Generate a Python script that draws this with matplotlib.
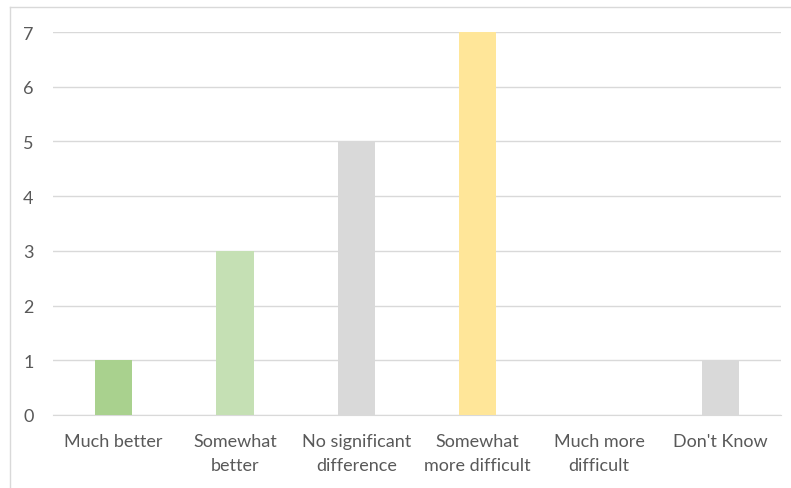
import matplotlib.pyplot as plt
from matplotlib.lines import Line2D

categories = ["Much better", "Somewhat\nbetter", "No significant\ndifference",
              "Somewhat\nmore difficult", "Much more\ndifficult", "Don't Know"]
counts = [1, 3, 5, 7, 0, 1]
bar_colors = ["#a9d18e", "#c5e0b4", "#d9d9d9", "#ffe699", "#d9d9d9", "#d9d9d9"]
y_ticks = [0, 1, 2, 3, 4, 5, 6, 7]

plt.rcParams["font.family"] = ["Lato", "DejaVu Sans"]

fig = plt.figure(figsize=(7.91, 4.89), dpi=100)
fig.patch.set_facecolor("white")
ax = fig.add_axes([0.067, 0.1493, 0.9204, 0.7832])

x = range(len(categories))
ax.bar(x, counts, width=0.31, color=bar_colors, zorder=3)

ax.set_xlim(-0.5, len(categories) - 0.5)
ax.set_ylim(0, 7)
ax.set_yticks(y_ticks)
ax.set_xticks(list(x))
ax.set_xticklabels(categories, linespacing=1.6)
ax.grid(axis="y", color="#d9d9d9", linewidth=1.0, zorder=0)
ax.tick_params(axis="both", length=0, colors="#595959", labelsize=13)
ax.tick_params(axis="y", pad=14)
ax.tick_params(axis="x", pad=13)
for side in ["top", "right", "left"]:
    ax.spines[side].set_visible(False)
ax.spines["bottom"].set_color("#d9d9d9")

# chart frame: top and left edges only
fig.add_artist(Line2D([0.0126, 1.0], [0.984, 0.984], transform=fig.transFigure,
                      color="#d9d9d9", linewidth=1.0))
fig.add_artist(Line2D([0.0126, 0.0126], [0.0, 0.984], transform=fig.transFigure,
                      color="#d9d9d9", linewidth=1.0))

fig.savefig("out.png", dpi=100, facecolor="white")
